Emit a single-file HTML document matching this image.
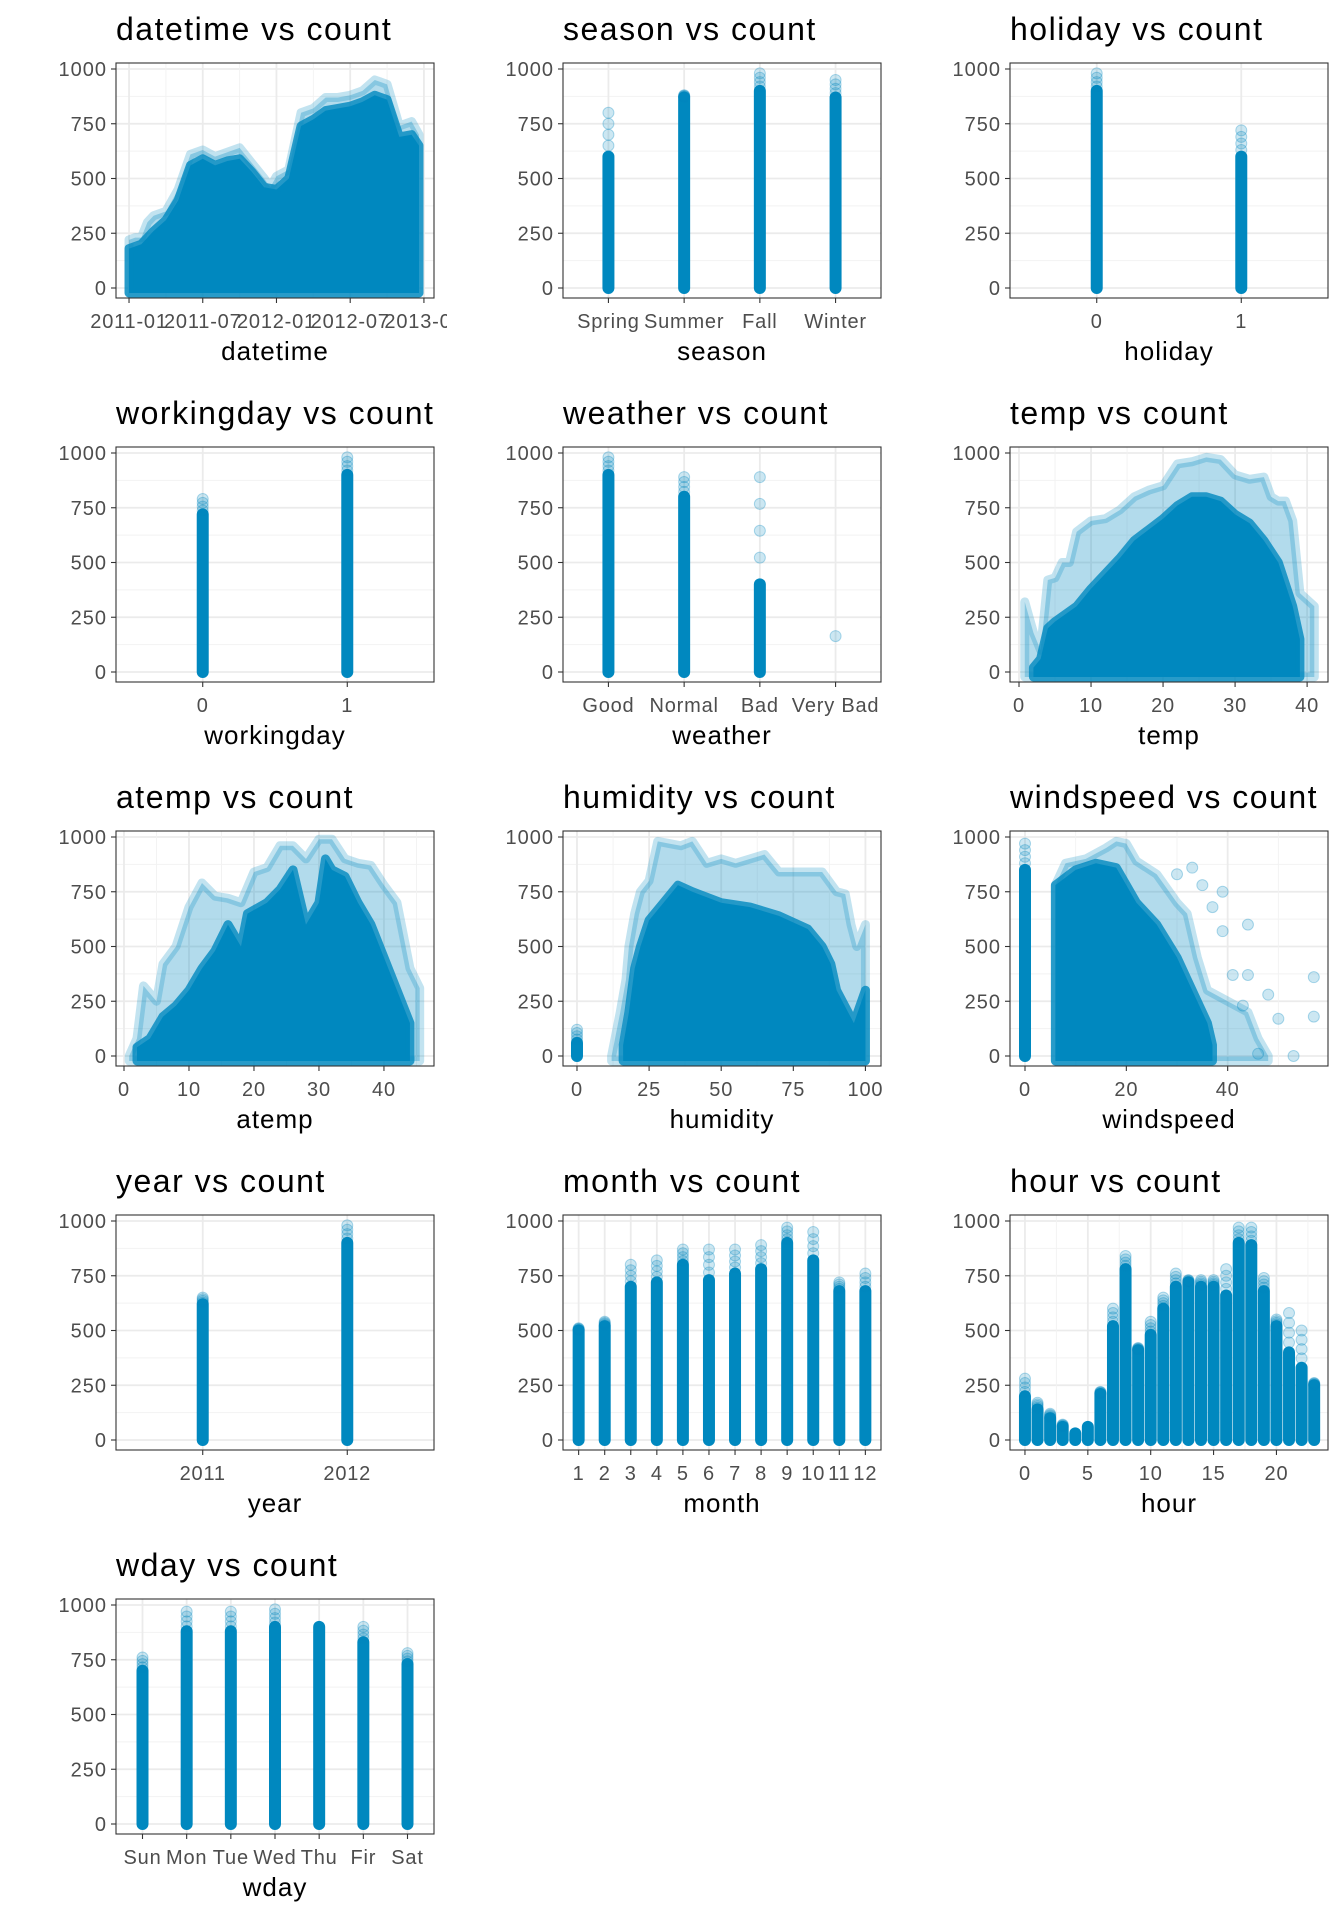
<!DOCTYPE html>
<html><head><meta charset="utf-8"><style>
html,body{margin:0;padding:0;background:#fff;}
svg{display:block;font-family:"Liberation Sans",sans-serif;}
</style></head><body>
<svg id="chart" width="1344" height="1920" viewBox="0 0 1344 1920" xmlns="http://www.w3.org/2000/svg"></svg>
<script>
// ---- data ----
const yTicks = [0,250,500,750,1000];
const yMinor = [125,375,625,875];
// datetime (months since 2011-01)
const dtTickVals = [0,6,12,18,24];
const dtTickLabels = ["2011-01","2011-07","2012-01","2012-07","2013-01"];
const dtOuterX = [0,0.5,1,1.5,2,3,4,5,6,7,8,9,10,11,11.5,12,13,14,15,16,17,18,19,20,21,22,23,23.6];
const dtOuterY = [220,230,230,300,330,350,450,610,630,600,620,640,570,500,460,510,540,800,820,870,870,880,900,950,930,740,760,700];
const dtDenseX = [0,1,2,3,4,5,6,7,8,9,10,11,12,13,14,15,16,17,18,19,20,21,22,23,23.6];
const dtDenseY = [180,200,260,310,400,560,590,560,580,590,530,460,450,500,740,770,810,820,830,850,880,860,690,700,650];
// season
const seasonCats = ["Spring","Summer","Fall","Winter"];
const seasonDense = [600,870,900,870];
const seasonMax = [800,880,980,950];
// holiday
const holidayCats = ["0","1"];
const holidayDense = [900,600];
const holidayMax = [980,720];
// workingday
const workCats = ["0","1"];
const workDense = [720,900];
const workMax = [790,980];
// weather
const weatherCats = ["Good","Normal","Bad","Very Bad"];
const weatherDense = [900,800,400,null];
const weatherMax = [980,890,890,164];
// temp
const tempTicks = [0,10,20,30,40];
const tempOuterX = [0.8,2,3,4,5,6,7,8,10,12,14,16,18,20,22,24,26,28,30,32,34,35,36,37,38,39,41];
const tempOuterY = [320,180,100,420,430,500,500,640,690,700,740,800,830,850,950,960,980,970,900,880,890,800,780,780,690,360,300];
const tempDenseX = [2,3,4,5,8,10,12,14,16,18,20,22,24,26,28,30,32,34,36,37,38,39];
const tempDenseY = [20,60,200,230,300,380,450,520,600,650,700,760,800,800,780,720,680,600,500,400,300,150];
// atemp
const atempTicks = [0,10,20,30,40];
const atempOuterX = [0.8,2,3,5,6,8,10,12,14,16,18,20,22,24,26,28,30,32,34,36,38,40,42,44,45.5];
const atempOuterY = [0,80,320,250,420,500,680,790,730,720,700,840,860,960,960,900,990,990,900,880,870,780,700,400,310];
const atempDenseX = [2,4,6,8,10,12,14,16,18,19,22,24,26,28,30,31,32,34,36,38,40,42,44];
const atempDenseY = [40,80,180,230,300,400,480,600,500,650,700,760,850,600,700,900,850,820,700,600,450,300,150];
// humidity
const humTicks = [0,25,50,75,100];
const humOuterX = [12,15,17,18,20,22,25,28,32,36,40,45,50,55,60,65,70,75,80,85,90,93,95,97,100];
const humOuterY = [0,200,350,500,650,750,800,980,970,960,980,880,900,880,900,920,840,840,840,840,750,740,600,500,600];
const humDenseX = [16,18,20,22,25,30,35,40,50,60,70,80,85,88,90,94,96,100];
const humDenseY = [50,200,400,500,620,700,780,750,700,680,640,580,500,420,300,200,150,300];
const humZeroDense = 60;
const humZeroMax = 120;
// windspeed
const windTicks = [0,20,40];
const windZeroDense = 850;
const windZeroMax = 970;
const windOuterX = [6,8,12,16,18,20,22,26,30,32,34,36,40,44,46,48];
const windOuterY = [780,880,900,950,980,970,890,830,700,650,450,300,250,200,80,0];
const windDenseX = [6,10,14,18,20,22,26,30,32,34,36,37];
const windDenseY = [780,850,880,860,780,700,600,450,350,250,150,50];
const windOutX = [35,39,44,41,44,48,57,57,50,53,46,33,30,37,39,43];
const windOutY = [780,750,600,370,370,280,360,180,170,0,10,860,830,680,570,230];
// year
const yearCats = ["2011","2012"];
const yearDense = [620,900];
const yearMax = [650,980];
// month
const monthCats = ["1","2","3","4","5","6","7","8","9","10","11","12"];
const monthDense = [500,520,700,720,800,730,760,780,900,820,680,680];
const monthMax = [510,540,800,820,870,870,870,890,970,950,720,760];
// hour
const hourTicks = [0,5,10,15,20];
const hourVals = [0,1,2,3,4,5,6,7,8,9,10,11,12,13,14,15,16,17,18,19,20,21,22,23];
const hourDense = [200,140,100,60,30,60,210,520,780,410,480,600,700,720,700,700,660,900,890,680,520,400,330,250];
const hourMax = [280,170,120,70,30,60,220,600,840,420,540,650,760,730,730,730,780,970,970,740,550,580,500,260];
// wday
const wdayCats = ["Sun","Mon","Tue","Wed","Thu","Fir","Sat"];
const wdayDense = [700,880,880,900,900,830,730];
const wdayMax = [760,970,970,980,900,900,780];

// ---- layout ----
const colX = [116,563,1010];
const rowY = [63,447,831,1215,1599];
const PW = 318, PH = 235;
const BLUE = '#0088bf';
const NS = 'http://www.w3.org/2000/svg';
const svg = document.getElementById('chart');

function mk(tag, attrs, parent){
  const e = document.createElementNS(NS, tag);
  for (const k in attrs) e.setAttribute(k, attrs[k]);
  (parent||svg).appendChild(e);
  return e;
}
function yS(p, v){ return p.top + 225 - v*0.219; }
function numX(p, v){ return p.left + (v - p.dmin)/(p.dmax - p.dmin)*PW; }
function catX(p, i){ const u = PW/(p.n - 1 + 1.2); return p.left + (0.6 + i)*u; }

function frame(p, title, xlab){
  const g = mk('g', {});
  
  
  p.g = g;
  mk('rect', {x:p.left, y:p.top, width:PW, height:PH, fill:'#fff'}, g);
  yMinor.forEach(v=>{ mk('line',{x1:p.left,x2:p.left+PW,y1:yS(p,v),y2:yS(p,v),stroke:'#f2f2f2','stroke-width':0.9},g); });
  yTicks.forEach(v=>{ mk('line',{x1:p.left,x2:p.left+PW,y1:yS(p,v),y2:yS(p,v),stroke:'#ebebeb','stroke-width':1.8},g); });
  yTicks.forEach(v=>{
    mk('line',{x1:p.left-5,x2:p.left,y1:yS(p,v),y2:yS(p,v),stroke:'#333','stroke-width':1.1},g);
    const t = mk('text',{x:p.left-9,y:yS(p,v)+7,'text-anchor':'end','font-size':20,'letter-spacing':1,fill:'#4d4d4d'},g);
    t.textContent = v;
    
    
  });
  const tt = mk('text',{x:p.left,y:p.top-23,'font-size':32,'letter-spacing':1.5,fill:'#000'},svg);
  tt.textContent = title;
  
  
  const xt = mk('text',{x:p.left+PW/2,y:p.top+297,'font-size':26,'letter-spacing':1,fill:'#000','text-anchor':'middle'},svg);
  xt.textContent = xlab;
  
  
}
function xTick(p, x, label, major){
  if (major) {
    mk('line',{x1:x,x2:x,y1:p.top,y2:p.top+PH,stroke:'#ebebeb','stroke-width':1.8},p.g);
    mk('line',{x1:x,x2:x,y1:p.top+PH,y2:p.top+PH+5,stroke:'#333','stroke-width':1.1},svg);
    const t = mk('text',{x:x,y:p.top+265,'text-anchor':'middle','font-size':20,'letter-spacing':0.8,fill:'#4d4d4d','clip-path':'url(#cellclip'+p.c+')'},svg);
    t.textContent = label;
    
    
  } else {
    mk('line',{x1:x,x2:x,y1:p.top,y2:p.top+PH,stroke:'#f2f2f2','stroke-width':0.9},p.g);
  }
}
function border(p){
  const b = mk('rect',{x:p.left,y:p.top,width:PW,height:PH,fill:'none',stroke:'#333','stroke-width':1.1},svg);
  
  
}
function column(p, x, dense, mx){
  const y0 = yS(p,0);
  if (dense !== null) {
    const r = mk('rect',{x:x-6,y:yS(p,dense)-6,width:12,height:y0-yS(p,dense)+12,rx:6,fill:BLUE},p.g);
    
    
    const steps = 4;
    for (let k=1;k<=steps;k++){
      const v = dense + (mx-dense)*k/steps;
      if (mx>dense) dot(p, x, v);
    }
  } else {
    dot(p, x, mx);
  }
}
function dot(p, x, v){
  const c = mk('circle',{cx:x,cy:yS(p,v),r:5.5,fill:'rgba(0,136,191,0.2)',stroke:'rgba(0,136,191,0.3)','stroke-width':1},p.g);
  
  
}
function envelope(p, xs, ys, opacity, name){
  let pts = numX(p,xs[0]) + ',' + (yS(p,0)+5);
  xs.forEach((v,i)=>{ pts += ' ' + numX(p,v) + ',' + yS(p,ys[i]); });
  pts += ' ' + numX(p,xs[xs.length-1]) + ',' + (yS(p,0)+5);
  const e = mk('polygon',{points:pts,fill:BLUE,'fill-opacity':opacity,stroke:BLUE,'stroke-opacity':opacity*0.8,'stroke-width':9,'stroke-linejoin':'round'},p.g);
  
  
}

// clip paths per column cell
const defs = mk('defs',{});
colX.forEach((x,c)=>{
  const cp = mk('clipPath',{id:'cellclip'+c},defs);
  mk('rect',{x:x-116,y:0,width:447,height:1920},cp);
});

function catPanel(name, r, c, title, xlab, cats, dense, mx){
  const p = {name, left:colX[c], top:rowY[r], c, n:cats.length};
  frame(p, title, xlab);
  cats.forEach((lab,i)=>xTick(p, catX(p,i), lab, true));
  cats.forEach((lab,i)=>column(p, catX(p,i), dense[i], mx[i]));
  border(p);
}
function numPanel(name, r, c, title, xlab, dmin, dmax, ticks, labels, minorStep){
  const p = {name, left:colX[c], top:rowY[r], c, dmin, dmax};
  frame(p, title, xlab);
  for (let v = ticks[0]-minorStep; v <= dmax; v += minorStep*2) if (v>=dmin) xTick(p, numX(p,v), '', false);
  ticks.forEach((v,i)=>xTick(p, numX(p,v), labels ? labels[i] : String(v), true));
  return p;
}

// datetime
let p = numPanel('datetime', 0, 0, 'datetime vs count', 'datetime', -1.06, 24.82, dtTickVals, dtTickLabels, 3);
envelope(p, dtOuterX, dtOuterY, 0.3, 'datetime-sparse-points');
envelope(p, dtDenseX, dtDenseY, 1, 'datetime-dense-points');
border(p);
catPanel('season', 0, 1, 'season vs count', 'season', seasonCats, seasonDense, seasonMax);
catPanel('holiday', 0, 2, 'holiday vs count', 'holiday', holidayCats, holidayDense, holidayMax);
catPanel('workingday', 1, 0, 'workingday vs count', 'workingday', workCats, workDense, workMax);
catPanel('weather', 1, 1, 'weather vs count', 'weather', weatherCats, weatherDense, weatherMax);
// temp
p = numPanel('temp', 1, 2, 'temp vs count', 'temp', -1.25, 42.9, tempTicks, null, 5);
envelope(p, tempOuterX, tempOuterY, 0.3, 'temp-sparse-points');
envelope(p, tempDenseX, tempDenseY, 1, 'temp-dense-points');
border(p);
// atemp
p = numPanel('atemp', 2, 0, 'atemp vs count', 'atemp', -1.23, 47.7, atempTicks, null, 5);
envelope(p, atempOuterX, atempOuterY, 0.3, 'atemp-sparse-points');
envelope(p, atempDenseX, atempDenseY, 1, 'atemp-dense-points');
border(p);
// humidity
p = numPanel('humidity', 2, 1, 'humidity vs count', 'humidity', -4.85, 105.4, humTicks, null, 12.5);
envelope(p, humOuterX, humOuterY, 0.3, 'humidity-sparse-points');
envelope(p, humDenseX, humDenseY, 1, 'humidity-dense-points');
column(p, numX(p,0), humZeroDense, humZeroMax);
border(p);
// windspeed
p = numPanel('windspeed', 2, 2, 'windspeed vs count', 'windspeed', -2.96, 59.8, windTicks, null, 10);
envelope(p, windOuterX, windOuterY, 0.3, 'windspeed-sparse-points');
envelope(p, windDenseX, windDenseY, 1, 'windspeed-dense-points');
column(p, numX(p,0), windZeroDense, windZeroMax);
windOutX.forEach((v,i)=>dot(p, numX(p,v), windOutY[i]));
border(p);
catPanel('year', 3, 0, 'year vs count', 'year', yearCats, yearDense, yearMax);
catPanel('month', 3, 1, 'month vs count', 'month', monthCats, monthDense, monthMax);
// hour
p = numPanel('hour', 3, 2, 'hour vs count', 'hour', -1.19, 24.1, hourTicks, null, 2.5);
hourVals.forEach((h,i)=>column(p, numX(p,h), hourDense[i], hourMax[i]));
border(p);
catPanel('wday', 4, 0, 'wday vs count', 'wday', wdayCats, wdayDense, wdayMax);
</script>
</body></html>
